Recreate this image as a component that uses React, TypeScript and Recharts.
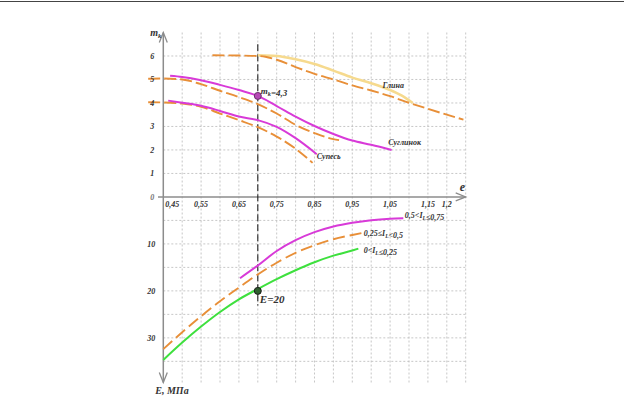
import { ComposedChart, Line, XAxis, YAxis, ReferenceLine, ReferenceDot } from "recharts";

// axis ticks
const eTicks = [0.45, 0.55, 0.65, 0.75, 0.85, 0.95, 1.05, 1.15, 1.2];
const eGrid = [0.5, 0.55, 0.6, 0.65, 0.7, 0.75, 0.8, 0.85, 0.9, 0.95, 1.0, 1.05, 1.1, 1.15, 1.2, 1.25];
const mTicks = [0, 1, 2, 3, 4, 5, 6];
const mGrid = [1, 2, 3, 4, 5, 6];
const modTicks = [10, 20, 30];
const modGrid = [5, 10, 15, 20, 25, 30, 35];

// upper part: m_k vs e
const glinaDash = [
  { e: 0.58, m: 6.03 }, { e: 0.65, m: 6.02 }, { e: 0.7, m: 6.0 }, { e: 0.72, m: 5.97 },
  { e: 0.75, m: 5.84 }, { e: 0.8, m: 5.53 }, { e: 0.85, m: 5.24 }, { e: 0.9, m: 5.0 },
  { e: 0.95, m: 4.75 }, { e: 1.0, m: 4.53 }, { e: 1.05, m: 4.29 }, { e: 1.1, m: 4.01 },
  { e: 1.15, m: 3.75 }, { e: 1.2, m: 3.5 }, { e: 1.244, m: 3.29 },
];
const glinaSolid = [
  { e: 0.7, m: 6.03 }, { e: 0.75, m: 6.0 }, { e: 0.8, m: 5.86 }, { e: 0.85, m: 5.66 },
  { e: 0.9, m: 5.38 }, { e: 0.95, m: 5.08 }, { e: 1.0, m: 4.84 }, { e: 1.05, m: 4.55 },
  { e: 1.08, m: 4.32 }, { e: 1.11, m: 4.0 },
];
const suglinokDash = [
  { e: 0.41, m: 5.03 }, { e: 0.45, m: 5.04 }, { e: 0.5, m: 5.0 }, { e: 0.55, m: 4.8 },
  { e: 0.6, m: 4.52 }, { e: 0.65, m: 4.25 }, { e: 0.7, m: 3.95 }, { e: 0.75, m: 3.55 },
  { e: 0.8, m: 3.07 }, { e: 0.85, m: 2.72 }, { e: 0.9, m: 2.46 }, { e: 0.915, m: 2.42 },
];
const suglinokSolid = [
  { e: 0.468, m: 5.16 }, { e: 0.5, m: 5.11 }, { e: 0.55, m: 4.97 }, { e: 0.6, m: 4.77 },
  { e: 0.65, m: 4.55 }, { e: 0.7, m: 4.3 }, { e: 0.75, m: 3.87 }, { e: 0.8, m: 3.42 },
  { e: 0.85, m: 3.02 }, { e: 0.9, m: 2.68 }, { e: 0.95, m: 2.4 }, { e: 1.0, m: 2.22 },
  { e: 1.054, m: 2.0 },
];
const supesDash = [
  { e: 0.41, m: 4.03 }, { e: 0.45, m: 4.02 }, { e: 0.5, m: 3.97 }, { e: 0.55, m: 3.84 },
  { e: 0.6, m: 3.55 }, { e: 0.65, m: 3.27 }, { e: 0.7, m: 2.97 }, { e: 0.75, m: 2.57 },
  { e: 0.8, m: 2.05 }, { e: 0.845, m: 1.45 },
];
const supesSolid = [
  { e: 0.463, m: 4.1 }, { e: 0.5, m: 4.01 }, { e: 0.55, m: 3.88 }, { e: 0.6, m: 3.66 },
  { e: 0.65, m: 3.42 }, { e: 0.7, m: 3.27 }, { e: 0.75, m: 2.98 }, { e: 0.8, m: 2.5 },
  { e: 0.856, m: 1.82 },
];

// lower part: E, MPa vs e
const soft = [
  { e: 0.653, E: 17.3 }, { e: 0.7, E: 14.6 }, { e: 0.75, E: 11.5 }, { e: 0.8, E: 9.2 },
  { e: 0.85, E: 7.5 }, { e: 0.9, E: 6.3 }, { e: 0.95, E: 5.5 }, { e: 1.0, E: 4.95 },
  { e: 1.05, E: 4.65 }, { e: 1.085, E: 4.55 },
];
const medium = [
  { e: 0.45, E: 32.4 }, { e: 0.5, E: 28.8 }, { e: 0.55, E: 25.4 }, { e: 0.6, E: 22.2 },
  { e: 0.65, E: 19.3 }, { e: 0.7, E: 16.5 }, { e: 0.75, E: 14.0 }, { e: 0.8, E: 11.9 },
  { e: 0.85, E: 10.3 }, { e: 0.9, E: 9.0 }, { e: 0.95, E: 8.1 }, { e: 0.975, E: 7.7 },
];
const stiff = [
  { e: 0.45, E: 34.7 }, { e: 0.5, E: 31.0 }, { e: 0.55, E: 27.6 }, { e: 0.6, E: 24.5 },
  { e: 0.65, E: 21.8 }, { e: 0.7, E: 19.6 }, { e: 0.75, E: 17.5 }, { e: 0.8, E: 15.6 },
  { e: 0.85, E: 13.9 }, { e: 0.9, E: 12.5 }, { e: 0.95, E: 11.4 }, { e: 0.966, E: 11.0 },
];

const E_STEP = 5; // 5 MPa take one grid cell of the upper m_k scale
const up = (arr: { e: number; m: number }[]) => arr.map((p) => ({ x: p.e, y: p.m }));
const down = (arr: { e: number; E: number }[]) => arr.map((p) => ({ x: p.e, y: -p.E / E_STEP }));
const comma = (v: number) => String(v).replace(".", ",");

const ORANGE = "#e88f38";
const MAGENTA = "#d83ad8";
const GREEN = "#3ee03e";
const PALE = "#f6da8e";
const GRID = "#b9b9b9";
const AXIS = "#8c8c8c";
const FONT = "'Liberation Serif', 'Times New Roman', serif";

function txt(
  key: string,
  x: number,
  y: number,
  content: any,
  dx = 0,
  dy = 0,
  size = 8,
  anchor: "start" | "middle" | "end" = "start",
  color = "#333"
) {
  return (
    <ReferenceDot
      key={key}
      x={x}
      y={y}
      r={0}
      ifOverflow="visible"
      shape={(p: any) => (
        <text
          x={p.cx + dx}
          y={p.cy + dy}
          fontSize={size}
          fontFamily={FONT}
          fontStyle="italic"
          fontWeight="bold"
          textAnchor={anchor}
          fill={color}
        >
          {content}
        </text>
      )}
    />
  );
}

function arrow(key: string, x: number, y: number, dir: "up" | "down" | "right") {
  return (
    <ReferenceDot
      key={key}
      x={x}
      y={y}
      r={0}
      ifOverflow="visible"
      shape={(p: any) => {
        const { cx, cy } = p;
        const d =
          dir === "up"
            ? `M${cx - 4},${cy + 10} L${cx},${cy} L${cx + 4},${cy + 10}`
            : dir === "down"
            ? `M${cx - 4},${cy - 10} L${cx},${cy} L${cx + 4},${cy - 10}`
            : `M${cx - 10},${cy - 4} L${cx},${cy} L${cx - 10},${cy + 4}`;
        return <path d={d} fill="none" stroke={AXIS} strokeWidth={1.3} />;
      }}
    />
  );
}

const sub = (s: string) => (
  <tspan fontSize="70%" dy={2}>
    {s}
  </tspan>
);

export default function App() {
  const lineProps = {
    dataKey: "y",
    type: "monotone" as const,
    dot: false,
    activeDot: false,
    isAnimationActive: false,
  };
  return (
    <div style={{ position: "absolute", left: 0, top: 0, width: 624, height: 396, background: "#fff" }}>
      <div style={{ position: "absolute", left: 0, top: 1, width: 624, height: 1, background: "#444" }} />
      <ComposedChart
        width={624}
        height={396}
        margin={{ top: 32.5, right: 158.3, bottom: 13.5, left: 144.4 }}
      >
        <XAxis type="number" dataKey="x" domain={[0.4, 1.25]} hide />
        <YAxis type="number" domain={[-7.9, 7.0]} hide />

        {eGrid.map((v) => (
          <ReferenceLine key={"vg" + v} x={v} stroke={GRID} strokeDasharray="2 2" strokeWidth={0.8} />
        ))}
        {mGrid.map((v) => (
          <ReferenceLine
            key={"hg" + v}
            segment={[{ x: 0.45, y: v }, { x: 1.25, y: v }]}
            stroke={GRID}
            strokeDasharray="2 2"
            strokeWidth={0.8}
          />
        ))}
        {modGrid.map((v) => (
          <ReferenceLine
            key={"lg" + v}
            segment={[{ x: 0.45, y: -v / E_STEP }, { x: 1.25, y: -v / E_STEP }]}
            stroke={GRID}
            strokeDasharray="2 2"
            strokeWidth={0.8}
          />
        ))}

        {/* axes */}
        <ReferenceLine segment={[{ x: 0.45, y: 7.0 }, { x: 0.45, y: -7.9 }]} stroke={AXIS} strokeWidth={1.5} ifOverflow="visible" />
        <ReferenceLine segment={[{ x: 0.436, y: 0 }, { x: 1.25, y: 0 }]} stroke={AXIS} strokeWidth={1.5} ifOverflow="visible" />
        {arrow("au", 0.45, 7.0, "up")}
        {arrow("ad", 0.45, -7.9, "down")}
        {arrow("ar", 1.25, 0, "right")}

        {/* e = 0,7 guide */}
        <ReferenceLine
          segment={[{ x: 0.7, y: 6.5 }, { x: 0.7, y: -23.1 / E_STEP }]}
          stroke="#222"
          strokeDasharray="7 3"
          strokeWidth={1.1}
        />

        <Line {...lineProps} data={up(glinaSolid)} stroke={PALE} strokeWidth={2.5} />
        <Line {...lineProps} data={up(glinaDash)} stroke={ORANGE} strokeWidth={1.9} strokeDasharray="12 4" />
        <Line {...lineProps} data={up(suglinokDash)} stroke={ORANGE} strokeWidth={1.9} strokeDasharray="12 4" />
        <Line {...lineProps} data={up(supesDash)} stroke={ORANGE} strokeWidth={1.9} strokeDasharray="12 4" />
        <Line {...lineProps} data={up(suglinokSolid)} stroke={MAGENTA} strokeWidth={2} />
        <Line {...lineProps} data={up(supesSolid)} stroke={MAGENTA} strokeWidth={2} />
        <Line {...lineProps} data={down(soft)} stroke={MAGENTA} strokeWidth={2} />
        <Line {...lineProps} data={down(medium)} stroke={ORANGE} strokeWidth={1.9} strokeDasharray="12 5" />
        <Line {...lineProps} data={down(stiff)} stroke={GREEN} strokeWidth={2} />

        <ReferenceDot x={0.7} y={4.3} r={3.5} fill="#b548b5" stroke="#6a2f6a" strokeWidth={1} />
        <ReferenceDot x={0.7} y={-20 / E_STEP} r={3.5} fill="#2f5f2f" stroke="#1a1a1a" strokeWidth={1} />

        {/* tick labels */}
        {mTicks.map((v) => txt("mt" + v, 0.45, v, String(v), -11, 3, 8, "middle", v === 0 ? "#777" : "#333"))}
        {modTicks.map((v) => txt("Et" + v, 0.45, -v / E_STEP, String(v), -12, 3, 8, "middle"))}
        {eTicks.map((v) =>
          v === 0.45
            ? txt("et" + v, v, 0, comma(v), 2, 10, 8, "start")
            : txt("et" + v, v, 0, comma(v), 0, 10, 8, "middle")
        )}

        {/* axis titles */}
        {txt("tm", 0.45, 7.0, <>m{sub("k")}</>, -13, 3, 10)}
        {txt("te", 1.25, 0, "e", -6, -6, 12)}
        {txt("tE", 0.45, -7.9, "E, МПа", -8, 11, 10)}

        {/* curve labels */}
        {txt("lg", 1.03, 4.62, "Глина", 0, 0, 8)}
        {txt("ls", 1.045, 2.21, "Суглинок", 0, 0, 8)}
        {txt("lp", 0.856, 1.6, "Супесь", 0, 0, 8)}
        {txt("l1", 1.089, -0.9, <>0,5&lt;I{sub("L")}≤0,75</>, 0, 0, 8)}
        {txt("l2", 0.98, -1.66, <>0,25≤I{sub("L")}&lt;0,5</>, 0, 0, 8)}
        {txt("l3", 0.98, -2.38, <>0&lt;I{sub("L")}≤0,25</>, 0, 0, 8)}

        {/* point annotations */}
        {txt("pm", 0.7, 4.3, <>m{sub("k")}=4,3</>, 3, -2, 9)}
        {txt("pE", 0.7, -20 / E_STEP, "E=20", 2, 12, 11)}
      </ComposedChart>
    </div>
  );
}
